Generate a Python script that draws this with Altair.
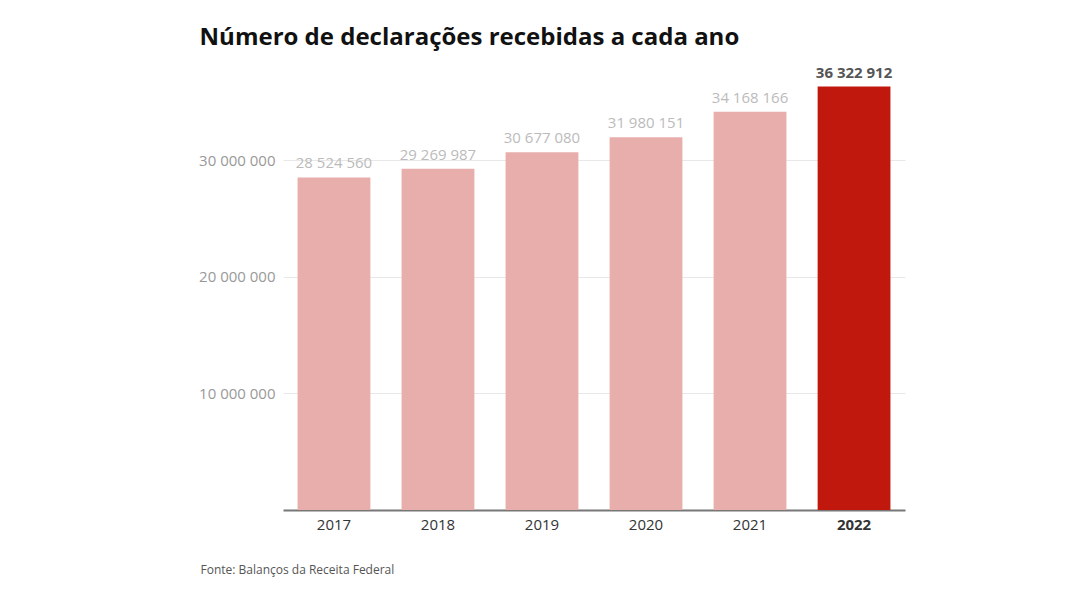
import altair as alt
import pandas as pd

years = ["2017", "2018", "2019", "2020", "2021", "2022"]
values = [28524560, 29269987, 30677080, 31980151, 34168166, 36322912]
highlight = [False, False, False, False, False, True]
y_ticks = [10000000, 20000000, 30000000]

df = pd.DataFrame({"ano": years, "valor": values, "destaque": highlight})
df["rotulo"] = [f"{v:,}".replace(",", " ") for v in values]

FONT = "Open Sans"

x = alt.X(
    "ano:N",
    sort=years,
    scale=alt.Scale(paddingInner=0.3, paddingOuter=0.14),
    axis=alt.Axis(
        title="Fonte: Balanços da Receita Federal",
        titleFont=FONT,
        titleFontSize=12,
        titleFontWeight="normal",
        titleColor="#555555",
        titleAnchor="start",
        titleAlign="left",
        titleBaseline="middle",
        titleX=-83,
        titleY=59,
        labelFont=FONT,
        labelFontSize=15,
        labelColor="#333333",
        labelFontWeight={"condition": {"test": "datum.value == '2022'", "value": "bold"}, "value": "normal"},
        labelPadding=7,
        labelAngle=0,
        ticks=False,
        domain=True,
        domainColor="#777777",
        domainWidth=2,
        grid=False,
    ),
)

y = alt.Y(
    "valor:Q",
    scale=alt.Scale(domain=[0, 38000000], nice=False),
    axis=alt.Axis(
        title=None,
        values=y_ticks,
        labelExpr="replace(format(datum.value, ','), /,/g, ' ')",
        labelFont=FONT,
        labelFontSize=15,
        labelColor="#999999",
        labelPadding=8,
        ticks=False,
        domain=False,
        grid=True,
        gridColor="#e8e8e8",
    ),
)

bars = alt.Chart(df).mark_bar().encode(
    x=x,
    y=y,
    color=alt.Color(
        "destaque:N",
        scale=alt.Scale(domain=[False, True], range=["#e8aeab", "#c1180e"]),
        legend=None,
    ),
)

labels_normal = (
    alt.Chart(df)
    .transform_filter("!datum.destaque")
    .mark_text(baseline="bottom", dy=-6, font=FONT, fontSize=15, color="#bbbbbb")
    .encode(x=alt.X("ano:N", sort=years), y=alt.Y("valor:Q"), text="rotulo:N")
)

labels_bold = (
    alt.Chart(df)
    .transform_filter("datum.destaque")
    .mark_text(baseline="bottom", dy=-6, font=FONT, fontSize=15, fontWeight="bold", color="#555555")
    .encode(x=alt.X("ano:N", sort=years), y=alt.Y("valor:Q"), text="rotulo:N")
)

chart = (
    alt.layer(bars, labels_normal, labels_bold)
    .properties(
        width=622,
        height=443,
        autosize=alt.AutoSizeParams(type="none"),
        padding={"left": 275, "top": 59, "right": 40, "bottom": 80},
        title=alt.TitleParams(
            "Número de declarações recebidas a cada ano",
            anchor="start",
            dx=1,
            offset=16,
            font=FONT,
            fontSize=24,
            fontWeight="bold",
            color="#111111",
        ),
    )
    .configure_view(stroke=None)
)

chart.save("out.html", embed_options={"renderer": "svg", "actions": False})
